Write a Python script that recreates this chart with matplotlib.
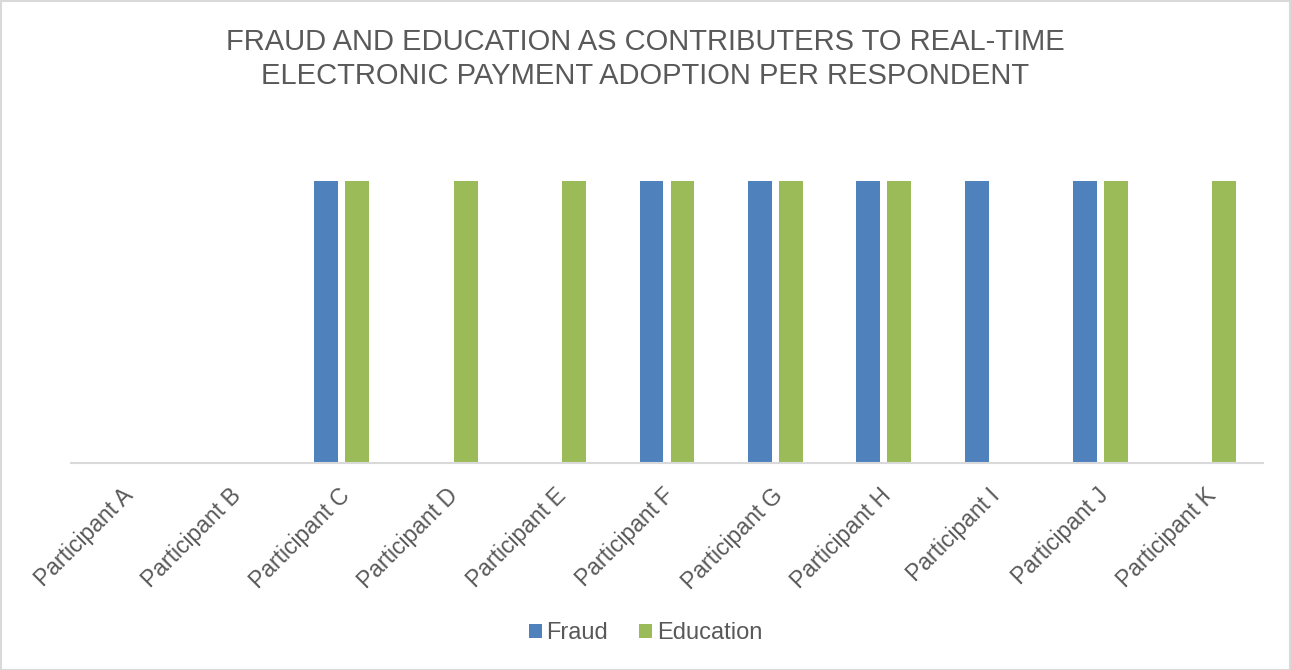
import numpy as np
import matplotlib
matplotlib.use("Agg")
import matplotlib.pyplot as plt
import matplotlib.transforms as mtransforms
from matplotlib.patches import Rectangle

participants = ["Participant A", "Participant B", "Participant C", "Participant D",
                "Participant E", "Participant F", "Participant G", "Participant H",
                "Participant I", "Participant J", "Participant K"]
fraud = [0, 0, 1, 0, 0, 1, 1, 1, 1, 1, 0]
education = [0, 0, 1, 1, 1, 1, 1, 1, 0, 1, 1]

title = "FRAUD AND EDUCATION AS CONTRIBUTERS TO REAL-TIME\nELECTRONIC PAYMENT ADOPTION PER RESPONDENT"

plt.rcParams["font.family"] = ["Liberation Sans", "DejaVu Sans"]
text_color = "#595959"

W, H = 1291, 670
fig = plt.figure(figsize=(W / 100, H / 100), dpi=100)
fig.patch.set_facecolor("white")

left, right, base, top = 71, 1263, 463, 124.6
ax = fig.add_axes([left / W, (H - base) / H, (right - left) / W, (base - top) / H])

x = np.arange(len(participants))
width = 0.221
offset = 0.143
ax.bar(x - offset, fraud, width, color="#4f81bd", label="Fraud")
ax.bar(x + offset, education, width, color="#9bbb59", label="Education")

ax.set_xlim(-0.5, len(participants) - 0.5)
ax.set_ylim(0, 1.2)
ax.set_yticks([])
for s in ["top", "right", "left"]:
    ax.spines[s].set_visible(False)
ax.spines["bottom"].set_color("#d9d9d9")
ax.spines["bottom"].set_linewidth(1.5)

ax.set_xticks(x)
ax.set_xticklabels(participants, rotation=45, ha="right", va="top",
                   rotation_mode="anchor", fontsize=16.5, color=text_color)
ax.tick_params(axis="x", length=0, pad=15)
shift = mtransforms.ScaledTranslation(-4 / 100, 0, fig.dpi_scale_trans)
for lbl in ax.get_xticklabels():
    lbl.set_transform(lbl.get_transform() + shift)

fig.text(0.5, 1 - 59 / H, title, ha="center", va="center",
         fontsize=21, color=text_color, linespacing=1.25)

fig.legend(loc="center", bbox_to_anchor=(0.5, 1 - 633 / H), ncol=2, frameon=False,
           fontsize=17, labelcolor=text_color, handlelength=0.55, handleheight=0.55,
           handletextpad=0.2, columnspacing=1.3)

fig.patches.append(Rectangle((0.5 / W, 0.5 / H), 1 - 1.5 / W, 1 - 1.5 / H,
                             transform=fig.transFigure, fill=False,
                             edgecolor="#d9d9d9", linewidth=1.5))

fig.savefig("out.png", dpi=100)
